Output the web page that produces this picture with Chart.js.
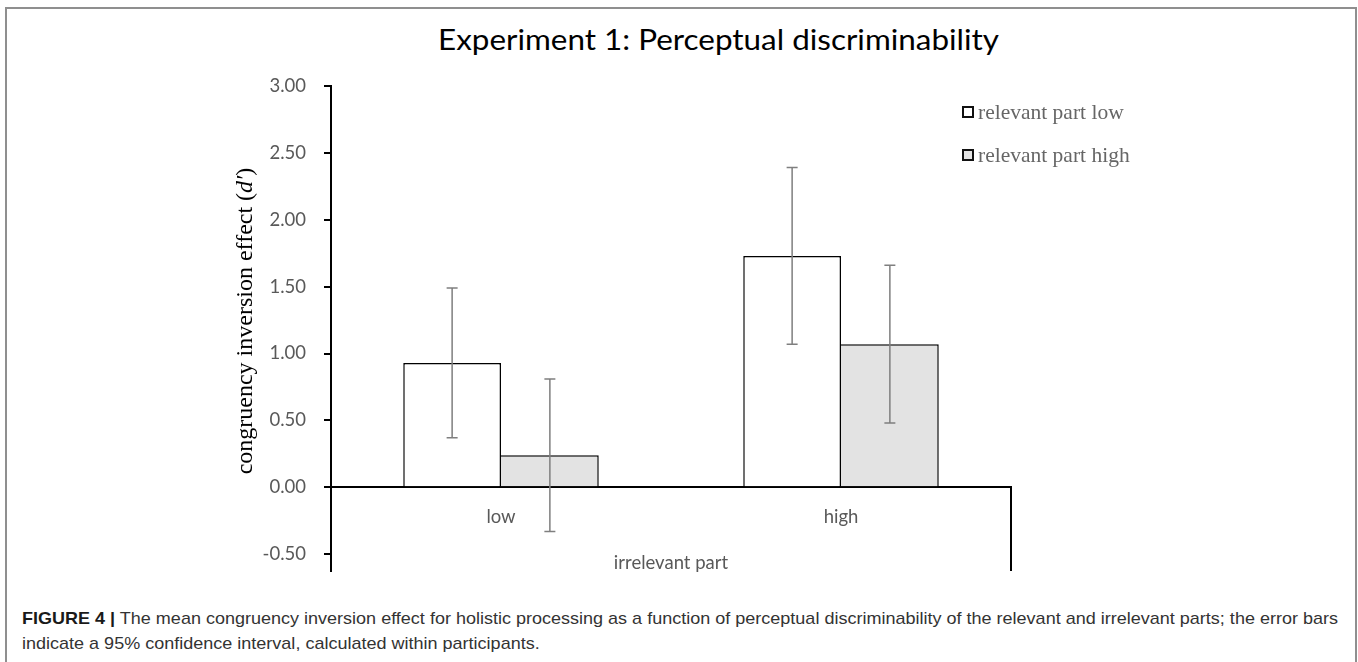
<!DOCTYPE html>
<html lang="en">
<head>
    <meta charset="UTF-8">
    <title>Experiment 1: Perceptual discriminability</title>
    <script src="https://cdn.jsdelivr.net/npm/chart.js"></script>
    <style>
        body {
            margin: 0;
            background: #ffffff;
            width: 1358px;
            height: 662px;
            overflow: hidden;
            position: relative;
        }
        .frame {
            position: absolute;
            left: 5px;
            top: 7px;
            width: 1348px;
            height: 700px;
            border: 2px solid #8f8f8f;
        }
        .chart-container {
            position: absolute;
            left: 0;
            top: 0;
            width: 1358px;
            height: 600px;
        }
        .title {
            position: absolute;
            left: 438px;
            top: 24.5px;
            transform-origin: 0 0;
            font-family: 'Lato', sans-serif;
            font-size: 28px;
            line-height: 28px;
            color: #000;
            white-space: nowrap;
        }
        .y-title {
            position: absolute;
            left: 44px;
            top: 306px;
            width: 400px;
            height: 30px;
            line-height: 30px;
            text-align: center;
            transform: rotate(-90deg);
            font-family: 'Liberation Serif', serif;
            font-size: 24px;
            color: #000;
            white-space: nowrap;
        }
        .legend-item {
            position: absolute;
            left: 962px;
            height: 26px;
            display: flex;
            align-items: center;
            font-family: 'Liberation Serif', serif;
            font-size: 21.5px;
            line-height: 26px;
            color: #666;
            white-space: nowrap;
        }
        .legend-box {
            width: 8px;
            height: 8px;
            border: 2px solid #111;
            margin-right: 4px;
        }
        .caption {
            position: absolute;
            left: 22px;
            top: 606px;
            font-family: 'Liberation Sans', Arial, sans-serif;
            font-size: 17px;
            line-height: 25px;
            color: #333;
            white-space: nowrap;
            transform-origin: 0 0;
        }
        .caption b {
            color: #1a1a1a;
        }
    </style>
</head>
<body>
    <div class="frame"></div>
    <div class="title" id="title">Experiment 1: Perceptual discriminability</div>
    <div class="chart-container">
        <canvas id="chart"></canvas>
    </div>
    <div class="y-title">congruency inversion effect (<i>d′</i>)</div>
    <div id="legend"></div>
    <div class="caption" id="caption">
        <span id="captionLine1"><b>FIGURE 4 |</b> The mean congruency inversion effect for holistic processing as a function of perceptual discriminability of the relevant and irrelevant parts; the error bars</span><br>
        <span>indicate a 95% confidence interval, calculated within participants.</span>
    </div>

    <script>
        const categories = ['low', 'high'];
        const seriesNames = ['relevant part low', 'relevant part high'];
        const relevantLow = [0.93, 1.73];
        const relevantHigh = [0.24, 1.07];
        const relevantLowCI = [0.56, 0.66];
        const relevantHighCI = [0.57, 0.59];
        const yTicks = [-0.5, 0, 0.5, 1, 1.5, 2, 2.5, 3];

        const fills = ['#ffffff', '#e3e3e3'];
        const labelFont = { family: 'Lato', size: 18.5 };

        // error bars + the short drop line at the right end of the zero axis
        const errorBars = {
            id: 'errorBars',
            afterDraw(chart) {
                const ctx = chart.ctx;
                const y = chart.scales.y;
                ctx.save();
                ctx.strokeStyle = '#7f7f7f';
                ctx.lineWidth = 1.5;
                chart.data.datasets.forEach((ds, i) => {
                    chart.getDatasetMeta(i).data.forEach((bar, j) => {
                        const top = y.getPixelForValue(ds.data[j] + ds.ci[j]);
                        const bot = y.getPixelForValue(ds.data[j] - ds.ci[j]);
                        ctx.beginPath();
                        ctx.moveTo(bar.x, top);
                        ctx.lineTo(bar.x, bot);
                        ctx.moveTo(bar.x - 5.5, top);
                        ctx.lineTo(bar.x + 5.5, top);
                        ctx.moveTo(bar.x - 5.5, bot);
                        ctx.lineTo(bar.x + 5.5, bot);
                        ctx.stroke();
                    });
                });
                const area = chart.chartArea;
                ctx.strokeStyle = '#000';
                ctx.lineWidth = 2;
                ctx.beginPath();
                ctx.moveTo(area.right, y.getPixelForValue(0));
                ctx.lineTo(area.right, area.bottom);
                ctx.stroke();
                ctx.restore();
            }
        };

        const chart = new Chart(document.getElementById('chart'), {
            type: 'bar',
            data: {
                labels: categories,
                datasets: [{
                    label: seriesNames[0],
                    data: relevantLow,
                    ci: relevantLowCI,
                    backgroundColor: fills[0],
                    borderColor: '#000',
                    borderWidth: { top: 1.5, left: 1.5, right: 1.5, bottom: 0 }
                }, {
                    label: seriesNames[1],
                    data: relevantHigh,
                    ci: relevantHighCI,
                    backgroundColor: fills[1],
                    borderColor: '#000',
                    borderWidth: { top: 1.5, left: 0, right: 1.5, bottom: 0 }
                }]
            },
            options: {
                responsive: true,
                maintainAspectRatio: false,
                animation: false,
                categoryPercentage: 0.575,
                barPercentage: 1,
                layout: { padding: { top: 86, right: 347, bottom: 27, left: 0 } },
                plugins: {
                    legend: { display: false },
                    tooltip: { enabled: false }
                },
                scales: {
                    x: {
                        position: { y: 0 },
                        z: 1,
                        grid: { display: false, drawTicks: false },
                        border: { color: '#000', width: 2 },
                        ticks: { color: '#595959', font: labelFont, padding: 19 },
                        title: {
                            display: true,
                            text: 'irrelevant part',
                            color: '#595959',
                            font: labelFont,
                            padding: { top: 4, bottom: 0 }
                        }
                    },
                    y: {
                        min: -0.625,
                        max: 3,
                        afterBuildTicks: s => { s.ticks = yTicks.map(v => ({ value: v })); },
                        afterFit: s => { s.width = 331; },
                        grid: { drawOnChartArea: false, drawTicks: true, tickLength: 7, color: '#000', lineWidth: 2 },
                        border: { color: '#000', width: 2 },
                        ticks: { color: '#595959', font: labelFont, padding: 18, callback: v => v.toFixed(2) }
                    }
                }
            },
            plugins: [errorBars]
        });

        // legend built from the datasets
        const legend = document.getElementById('legend');
        [98.5, 142].forEach((top, i) => {
            const item = document.createElement('div');
            item.className = 'legend-item';
            item.style.top = top + 'px';
            const box = document.createElement('span');
            box.className = 'legend-box';
            box.style.background = fills[i];
            item.appendChild(box);
            item.appendChild(document.createTextNode(seriesNames[i]));
            legend.appendChild(item);
        });

        // stretch title and caption to the widths of the original lines
        const title = document.getElementById('title');
        title.style.transform = 'scaleX(' + (561 / title.getBoundingClientRect().width) + ')';
        const caption = document.getElementById('caption');
        const line1 = document.getElementById('captionLine1');
        caption.style.transform = 'scaleX(' + (1316 / line1.getBoundingClientRect().width) + ')';
    </script>
</body>
</html>
